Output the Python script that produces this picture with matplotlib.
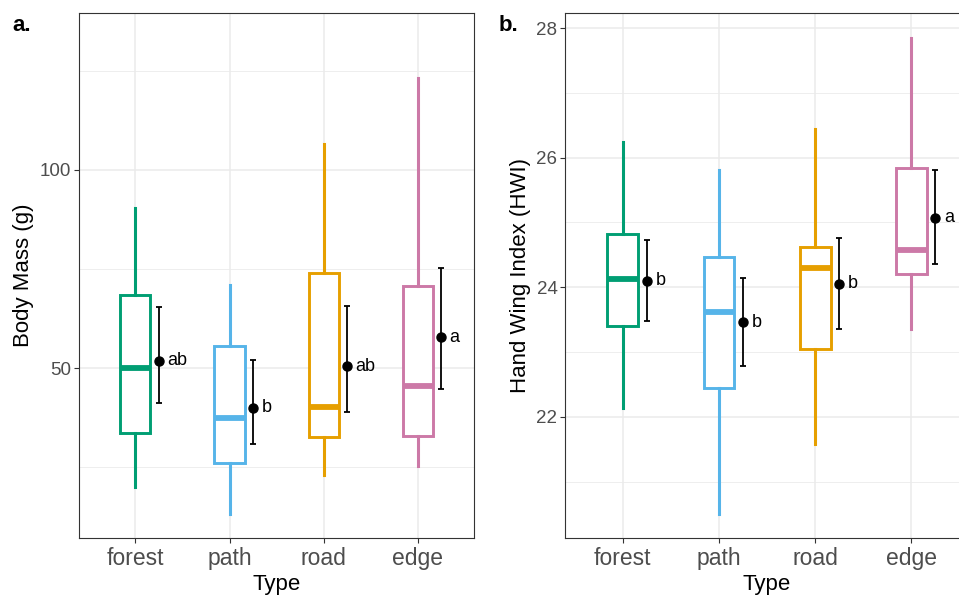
import matplotlib
matplotlib.use("Agg")
import matplotlib.pyplot as plt
from matplotlib.ticker import MultipleLocator

plt.rcParams["font.family"] = ["Liberation Sans", "DejaVu Sans"]

# --- Data ---
types = ["forest", "path", "road", "edge"]
colors = ["#009E73", "#56B4E9", "#E69F00", "#CC79A7"]

# body mass (g): whisker low, q1, median, q3, whisker high
mass_lo = [19.9, 13.1, 22.9, 25.3]
mass_q1 = [33.5, 26.1, 32.7, 32.9]
mass_med = [50.1, 37.5, 40.2, 45.5]
mass_q3 = [68.4, 55.6, 73.9, 70.8]
mass_hi = [90.3, 71.0, 106.6, 123.3]
mass_mean = [51.9, 40.0, 50.5, 57.8]
mass_ci_lo = [41.3, 30.8, 38.9, 44.6]
mass_ci_hi = [65.3, 52.0, 65.7, 75.3]
mass_letters = ["ab", "b", "ab", "a"]

# hand wing index
hwi_lo = [22.13, 20.50, 21.58, 23.36]
hwi_q1 = [23.40, 22.44, 23.04, 24.20]
hwi_med = [24.12, 23.61, 24.29, 24.58]
hwi_q3 = [24.82, 24.47, 24.62, 25.84]
hwi_hi = [26.24, 25.81, 26.44, 27.85]
hwi_mean = [24.10, 23.46, 24.05, 25.07]
hwi_ci_lo = [23.48, 22.79, 23.36, 24.36]
hwi_ci_hi = [24.73, 24.15, 24.76, 25.81]
hwi_letters = ["b", "b", "b", "a"]

fig = plt.figure(figsize=(9.59, 5.96), dpi=100)
ax_a = fig.add_axes([0.0824, 0.0973, 0.4119, 0.8807])
ax_b = fig.add_axes([0.5892, 0.0973, 0.4213, 0.8807])


def panel(ax, lo, q1, med, q3, hi, mean, ci_lo, ci_hi, letters, ylim, major, ylabel):
    pos = list(range(len(types)))
    stats = []
    for i in pos:
        stats.append({"whislo": lo[i], "q1": q1[i], "med": med[i], "q3": q3[i],
                      "whishi": hi[i], "fliers": []})
    bp = ax.bxp(stats, positions=pos, widths=0.32, showcaps=False,
                patch_artist=True, zorder=3)
    for i, c in enumerate(colors):
        bp["boxes"][i].set(facecolor="white", edgecolor=c, linewidth=2.1)
        bp["medians"][i].set(color=c, linewidth=4.2, solid_capstyle="butt")
        for w in bp["whiskers"][2 * i:2 * i + 2]:
            w.set(color=c, linewidth=2.2)

    xm = [p + 0.25 for p in pos]
    yerr = [[m - l for m, l in zip(mean, ci_lo)], [h - m for m, h in zip(mean, ci_hi)]]
    ax.errorbar(xm, mean, yerr=yerr, fmt="o", color="black", ms=6.5,
                elinewidth=1.3, capsize=2.2, capthick=1.3, zorder=4)
    for x, m, t in zip(xm, mean, letters):
        ax.text(x + 0.09, m, t, fontsize=13, va="center", ha="left")

    ax.set_xlim(-0.6, len(types) - 0.4)
    ax.set_ylim(*ylim)
    ax.set_xticks(pos)
    ax.set_xticklabels(types)
    ax.yaxis.set_major_locator(MultipleLocator(major))
    ax.yaxis.set_minor_locator(MultipleLocator(major / 2))
    ax.grid(True, which="major", color="#EBEBEB", linewidth=1.1, zorder=0)
    ax.grid(True, which="minor", axis="y", color="#EBEBEB", linewidth=0.6, zorder=0)
    ax.set_axisbelow(True)
    ax.tick_params(axis="both", which="major", length=3.5, width=0.8,
                   color="#333333", labelcolor="#4D4D4D")
    ax.tick_params(axis="x", labelsize=16.5, pad=3)
    ax.tick_params(axis="y", labelsize=13.5, pad=2)
    ax.tick_params(axis="y", which="minor", length=0)
    for s in ax.spines.values():
        s.set_color("#333333")
        s.set_linewidth(0.8)
    ax.set_xlabel("Type", fontsize=16, labelpad=3)
    ax.set_ylabel(ylabel, fontsize=16, labelpad=4)


panel(ax_a, mass_lo, mass_q1, mass_med, mass_q3, mass_hi, mass_mean,
      mass_ci_lo, mass_ci_hi, mass_letters, (7.1, 139.6), 50, "Body Mass (g)")
panel(ax_b, hwi_lo, hwi_q1, hwi_med, hwi_q3, hwi_hi, hwi_mean,
      hwi_ci_lo, hwi_ci_hi, hwi_letters, (20.13, 28.23), 2, "Hand Wing Index (HWI)")

fig.text(0.013, 0.958, "a.", fontsize=16, fontweight="bold", va="center")
fig.text(0.520, 0.958, "b.", fontsize=16, fontweight="bold", va="center")

fig.savefig("out.png", dpi=100)
